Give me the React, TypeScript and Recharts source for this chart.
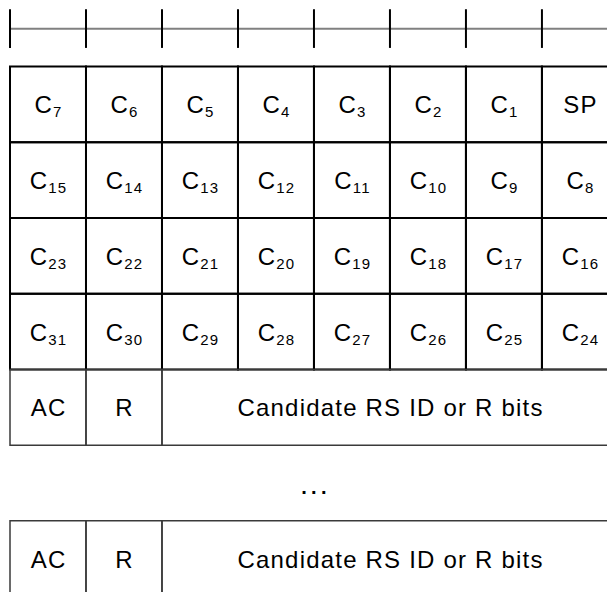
import { ComposedChart, ReferenceArea, ReferenceLine, Scatter, XAxis, YAxis } from "recharts";

// bit positions of the ruler ticks (column boundaries)
const RULER_TICKS = [0, 1, 2, 3, 4, 5, 6, 7, 8];

// code table, "_" marks the start of a subscript
const CODE_ROW_1 = ["C_7", "C_6", "C_5", "C_4", "C_3", "C_2", "C_1", "SP"];
const CODE_ROW_2 = ["C_15", "C_14", "C_13", "C_12", "C_11", "C_10", "C_9", "C_8"];
const CODE_ROW_3 = ["C_23", "C_22", "C_21", "C_20", "C_19", "C_18", "C_17", "C_16"];
const CODE_ROW_4 = ["C_31", "C_30", "C_29", "C_28", "C_27", "C_26", "C_25", "C_24"];
const CODE_ROWS = [CODE_ROW_1, CODE_ROW_2, CODE_ROW_3, CODE_ROW_4];

// trailing records: field names and their widths in columns
const TAIL_FIELDS = ["AC", "R", "Candidate RS ID or R bits"];
const TAIL_SPANS = [1, 1, 6];
const TAIL_ROWS = [4, 6];
const GAP_ROW = 5;
const GAP_LABEL = "...";

type Cell = { x1: number; x2: number; y1: number; y2: number; label: string };

const codeCells: Cell[] = CODE_ROWS.flatMap((row, r) =>
  row.map((label, c) => ({ x1: c, x2: c + 1, y1: r, y2: r + 1, label })),
);

const tailCells: Cell[] = TAIL_ROWS.flatMap((r) => {
  let start = 0;
  return TAIL_FIELDS.map((label, i) => {
    const cell = { x1: start, x2: start + TAIL_SPANS[i], y1: r, y2: r + 1, label };
    start += TAIL_SPANS[i];
    return cell;
  });
});

const labelPoints = [...codeCells, ...tailCells].map((c) => ({
  x: (c.x1 + c.x2) / 2,
  y: (c.y1 + c.y2) / 2,
  label: c.label,
}));

const gapPoint = [{ x: RULER_TICKS[4], y: GAP_ROW + 0.5, label: GAP_LABEL }];

const FONT = "'Liberation Sans', Arial, Helvetica, sans-serif";

function CellText(props: any) {
  const { cx, cy, payload } = props;
  const [main, sub] = String(payload.label).split("_");
  return (
    <text
      x={cx + 0.6}
      y={cy + 9}
      textAnchor="middle"
      fontFamily={FONT}
      fontSize={24}
      letterSpacing={1.2}
      fill="#000"
    >
      {main}
      {sub && (
        <tspan dy={4} fontSize={15}>
          {sub}
        </tspan>
      )}
    </text>
  );
}

function GapText(props: any) {
  const { cx, cy, payload } = props;
  return (
    <text
      x={cx + 2}
      y={cy + 11.5}
      textAnchor="middle"
      fontFamily={FONT}
      fontSize={20}
      fontWeight="bold"
      letterSpacing={4.3}
      fill="#000"
    >
      {payload.label}
    </text>
  );
}

export default function App() {
  return (
    <div
      style={{
        position: "fixed",
        left: 0,
        top: 0,
        width: 607,
        height: 592,
        overflow: "hidden",
        background: "#fff",
      }}
    >
      <ComposedChart width={700} height={687} margin={{ top: 0, right: 0, bottom: 0, left: 10 }}>
        <XAxis type="number" dataKey="x" domain={[0, 9.08]} allowDataOverflow hide />
        <YAxis type="number" dataKey="y" domain={[-0.88, 8.195]} allowDataOverflow reversed hide />

        <ReferenceLine y={-0.5} stroke="#808080" strokeWidth={2} />
        {RULER_TICKS.map((t) => (
          <ReferenceLine
            key={`tick-${t}`}
            segment={[
              { x: t, y: -0.758 },
              { x: t, y: -0.247 },
            ]}
            stroke="#000"
            strokeWidth={2}
          />
        ))}

        {codeCells.map((c, i) => (
          <ReferenceArea
            key={`code-${i}`}
            x1={c.x1}
            x2={c.x2}
            y1={c.y1}
            y2={c.y2}
            fill="none"
            stroke="#000"
            strokeWidth={2}
          />
        ))}
        {tailCells.map((c, i) => (
          <ReferenceArea
            key={`tail-${i}`}
            x1={c.x1}
            x2={c.x2}
            y1={c.y1}
            y2={c.y2}
            fill="none"
            stroke="#3a3a3a"
            strokeWidth={1.5}
          />
        ))}

        <Scatter data={labelPoints} shape={CellText} isAnimationActive={false} />
        <Scatter data={gapPoint} shape={GapText} isAnimationActive={false} />
      </ComposedChart>
    </div>
  );
}
